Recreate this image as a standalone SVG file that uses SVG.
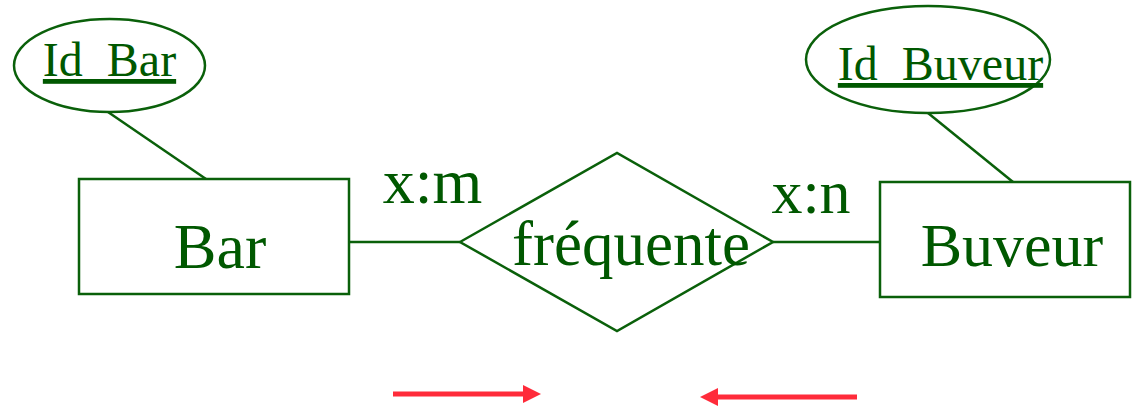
<svg xmlns="http://www.w3.org/2000/svg" width="1133" height="407" viewBox="0 0 1133 407">
<style>
.s{fill:none;stroke:#0a600a;stroke-width:2.5}
.t{fill:#005800;font-family:"Liberation Serif","Times New Roman",serif;text-anchor:middle}
.k{text-decoration:underline}
.r{stroke:#ff2b3a;stroke-width:5;fill:none}
.h{fill:#ff2b3a}
</style>
<rect width="1133" height="407" fill="#fff"/>
<g id="connectors">
<line class="s" x1="108" y1="112" x2="206" y2="179"/>
<line class="s" x1="928" y1="113" x2="1013" y2="182"/>
<line class="s" x1="349" y1="242" x2="460" y2="242"/>
<line class="s" x1="773" y1="242" x2="880" y2="242"/>
</g>
<g id="id_bar">
<ellipse class="s" cx="109.5" cy="65.5" rx="95.5" ry="46.5"/>
<text class="t k" x="109.5" y="76" font-size="48">Id_Bar</text>
</g>
<g id="bar">
<rect class="s" x="79" y="179" width="270" height="115"/>
<text class="t" x="220" y="268" font-size="64">Bar</text>
</g>
<g id="frequente">
<polygon class="s" points="460,242 617,153 773,242 617,331"/>
<text class="t" x="631" y="265" font-size="63">fréquente</text>
</g>
<g id="id_buveur">
<ellipse class="s" cx="928" cy="59.5" rx="122" ry="53.5"/>
<text class="t k" x="940.5" y="80" font-size="48">Id_Buveur</text>
</g>
<g id="buveur">
<rect class="s" x="880" y="182" width="250" height="115"/>
<text class="t" x="1012" y="266" font-size="62">Buveur</text>
</g>
<g id="labels">
<text class="t" x="432.5" y="203" font-size="64">x:m</text>
<text class="t" x="811" y="213" font-size="62">x:n</text>
</g>
<g id="arrows">
<line class="r" x1="393" y1="394" x2="525" y2="394"/>
<polygon class="h" points="523,385 541,394 523,403"/>
<line class="r" x1="857" y1="397" x2="716" y2="397"/>
<polygon class="h" points="718,388 700,397 718,406"/>
</g>
</svg>
